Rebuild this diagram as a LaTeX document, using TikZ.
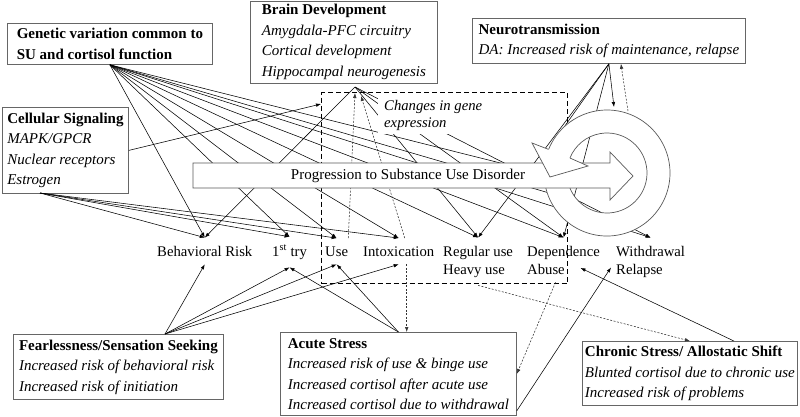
\documentclass[tikz,border=0pt]{standalone}
\usepackage{fontspec}
\setmainfont{Liberation Serif}
\usetikzlibrary{arrows.meta}

\tikzset{
  box/.style={draw=black!60, line width=0.8pt, fill=white, anchor=north west,
    inner sep=0pt, align=left, font=\fontsize{15}{20.5}\selectfont},
  stage/.style={anchor=base west, inner xsep=0pt, inner ysep=8pt, align=left,
    font=\fontsize{14.7}{18}\selectfont},
  plain/.style={line width=0.55pt},
  link/.style={plain, -{Latex[length=5pt,width=3.6pt]}},
  dlink/.style={link, black!80, dash pattern=on 2pt off 1.5pt},
  wide/.style={draw=black!65, line width=0.7pt, fill=white},
}

\begin{document}
\begin{tikzpicture}[x=1pt,y=-1pt]
\useasboundingbox (0,0) rectangle (800,416);

% Boxes
\node[box, minimum width=205, minimum height=41] (gen) at (7,23)
  {\textbf{Genetic variation common to}\\\textbf{SU and cortisol function}};
\node[box, minimum width=187, minimum height=82] (brain) at (250,0.5)
  {\textbf{Brain Development}\\\textit{Amygdala-PFC circuitry}\\\textit{Cortical development}\\\textit{Hippocampal neurogenesis}};
\node[box, minimum width=273, minimum height=45] (neuro) at (472,18)
  {\textbf{Neurotransmission}\\\textit{DA: Increased risk of maintenance, relapse}};
\node[box, minimum width=126, minimum height=86] (cell) at (2,107)
  {\textbf{Cellular Signaling}\\\textit{MAPK/GPCR}\\\textit{Nuclear receptors}\\\textit{Estrogen}};
\node[box, minimum width=210, minimum height=65] (fear) at (13,334)
  {\textbf{Fearlessness/Sensation Seeking}\\\textit{Increased risk of behavioral risk}\\\textit{Increased risk of initiation}};
\node[box, minimum width=236, minimum height=83] (acute) at (280,332)
  {\textbf{Acute Stress}\\\textit{Increased risk of use \& binge use}\\\textit{Increased cortisol after acute use}\\\textit{Increased cortisol due to withdrawal}};
\node[box, minimum width=215, minimum height=64] (chronic) at (582,341)
  {\textbf{Chronic Stress/ Allostatic Shift}\\\textit{Blunted cortisol due to chronic use}\\\textit{Increased risk of problems}};

% Stages
\node[stage] (br) at (157,256) {Behavioral Risk};
\node[stage] (first) at (272,256) {1\textsuperscript{st} try};
\node[stage] (use) at (325,256) {Use};
\node[stage] (intox) at (363,256) {Intoxication};
\node[stage] (reg) at (443,274) {Regular use\\Heavy use};
\node[stage] (dep) at (527,274) {Dependence\\Abuse};
\node[stage] (wd) at (616,274) {Withdrawal\\Relapse};

% Gene expression region
\node[draw, line width=1pt, dash pattern=on 5pt off 3pt, inner sep=0pt, anchor=north west,
  minimum width=246, minimum height=191] (gexbox) at (321,92) {};

% Edges
\coordinate (bapex) at (355,87);
\coordinate (capex) at (40,193);
\coordinate (fapex) at (165,334);
\coordinate (cycA) at (560,178);
\coordinate (cycB) at (556,195);
\coordinate (headtop) at (550,147);
\coordinate (ringin) at (614,107);
\coordinate (ringout) at (628,111);
\coordinate (ix) at ([xshift=8pt]intox.south);

\foreach \tgt in {br,first,use,intox,reg,dep,wd} \draw[link] (gen.south) -- (\tgt.north);
\foreach \tgt in {cycA,cycB} \draw[link] (gen.south) -- (\tgt);
\foreach \tgt in {br,reg,dep,wd} \draw[link] (bapex) -- (\tgt.north);
\foreach \tgt in {br,first,use,intox} \draw[link] (capex) -- (\tgt.north);
\foreach \tgt in {br,first,use,intox} \draw[link] (fapex) -- (\tgt.south);
\foreach \tgt in {first,use} \draw[link] (acute.north) -- (\tgt.south);
\draw[link] (cell.east) -- ([yshift=-12pt]gexbox.north west);
\foreach \tgt in {reg,dep} \draw[link] (neuro.south) -- (\tgt.north);
\draw[plain] (neuro.south) -- (headtop);
\draw[link] (neuro.south) -- (ringin);
\draw[dlink] (ringout) -- ([xshift=12pt]neuro.south);
\draw[dlink] (use.north east) -- ([yshift=-6pt]bapex);
\draw[dlink] ([xshift=6pt]intox.north) -- ([xshift=6pt,yshift=-9pt]bapex);
\draw[dlink] (ix) -- (ix |- acute.north);
\draw[dlink] ([xshift=-8pt]dep.south) -- (acute.east);
\draw[dlink] (reg.south) -- (chronic.north);
\draw[link] ([yshift=5pt]acute.south east) -- ([xshift=-5pt,yshift=-6pt]wd.west);
\draw[link] ([xshift=44pt]chronic.north) -- ([xshift=17pt,yshift=-8pt]dep.center);

\node[fill=white, anchor=north west, inner xsep=6pt, inner ysep=3pt, align=left,
  font=\itshape\fontsize{14.7}{17.5}\selectfont] (gene) at (378,97) {Changes in gene\\expression};

% Cycle and progression arrow
\coordinate (cyc) at (607,173);
\fill[white] ([shift={(-190:63)}]cyc) arc[start angle=-190, end angle=-518, radius=63]
  -- ([shift={(-518:40)}]cyc) arc[start angle=-518, end angle=-190, radius=40] -- cycle;
\draw[draw=black!65, line width=0.7pt] ([shift={(-190:63)}]cyc) arc[start angle=-190, end angle=-518, radius=63];
\draw[draw=black!65, line width=0.7pt] ([shift={(-190:40)}]cyc) arc[start angle=-190, end angle=-518, radius=40];
\filldraw[wide] (193,163) -- (610,163) -- (610,152) -- (633,176) -- (610,200) -- (610,188) -- (193,188) -- cycle;
\node[font=\fontsize{15}{18}\selectfont] (prog) at (408,176) {Progression to Substance Use Disorder};
\filldraw[wide] ([shift={(-518:63)}]cyc) -- (532,143) -- (550,177) -- (588,166) -- ([shift={(-518:40)}]cyc);
\end{tikzpicture}
\end{document}
